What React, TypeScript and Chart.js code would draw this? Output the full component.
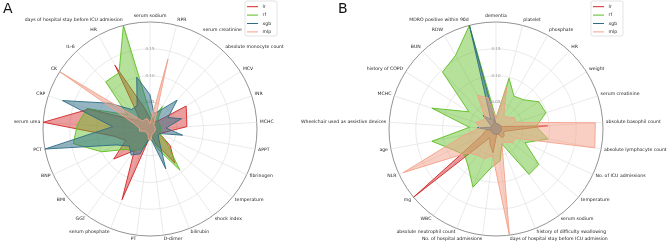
import React, { useEffect, useRef } from 'react';
import { Chart, registerables } from 'chart.js';
Chart.register(...registerables);

const FONT = '"DejaVu Sans", sans-serif';

const labelsA = [
  'serum sodium', 'RPR', 'serum creatinine', 'absolute monocyte count', 'MCV', 'INR', 'MCHC', 'APPT',
  'fibrinogen', 'temperature', 'shock index', 'bilirubin', 'D-dimer', 'PT', 'serum phosphate', 'GGT',
  'BMI', 'BNP', 'PCT', 'serum urea', 'CRP', 'CK', 'IL-6', 'HR', 'days of hospital stay before ICU admission',
];
const lrA = [0.02, 0.02, 0.015, 0.02, 0.08, 0.072, 0.069, 0.03, 0.02, 0.049, 0.079, 0.03, 0.01, 0.02, 0.142, 0.05, 0.088, 0.05, 0.07, 0.2, 0.12, 0.03, 0.03, 0.136, 0.04];
const rfA = [0.03, 0.02, 0.048, 0.02, 0.02, 0.02, 0.02, 0.02, 0.02, 0.04, 0.095, 0.04, 0.02, 0.02, 0.04, 0.05, 0.06, 0.1, 0.146, 0.136, 0.124, 0.05, 0.121, 0.12, 0.2];
const xgbA = [0.064, 0.03, 0.04, 0.074, 0.04, 0.062, 0.03, 0.062, 0.02, 0.02, 0.03, 0.08, 0.02, 0.02, 0.05, 0.06, 0.05, 0.07, 0.2, 0.07, 0.172, 0.09, 0.05, 0.05, 0.1];
const mlpA = [0.01, 0.135, 0.02, 0.01, 0.01, 0.01, 0.01, 0.01, 0.01, 0.01, 0.01, 0.01, 0.02, 0.02, 0.01, 0.01, 0.01, 0.01, 0.02, 0.02, 0.03, 0.199, 0.02, 0.02, 0.02];

const labelsB = [
  'dementia', 'platelet', 'phosphate', 'HR', 'weight', 'serum creatinine', 'absolute basophil count',
  'absolute lymphocyte count', 'No. of ICU admissions', 'temperature', 'serum sodium',
  'history of difficulty swallowing', 'days of hospital stay before ICU admission', 'No. of hospital admissions',
  'absolute neutrophil count', 'WBC', 'mg', 'NLR', 'age', 'Wheelchair used as assistive devices', 'MCHC',
  'history of COPD', 'BUN', 'RDW', 'MDRO positive within 90d',
];
const lrB = [0.01, 0.01, 0.01, 0.01, 0.01, 0.015, 0.097, 0.02, 0.015, 0.02, 0.02, 0.01, 0.01, 0.045, 0.03, 0.02, 0.2, 0.03, 0.02, 0.01, 0.01, 0.01, 0.01, 0.01, 0.02];
const rfB = [0.02, 0.098, 0.07, 0.075, 0.095, 0.098, 0.075, 0.099, 0.06, 0.104, 0.105, 0.03, 0.06, 0.073, 0.117, 0.088, 0.076, 0.09, 0.122, 0.05, 0.126, 0.06, 0.146, 0.157, 0.2];
const xgbB = [0.01, 0.01, 0.01, 0.01, 0.01, 0.01, 0.01, 0.01, 0.01, 0.01, 0.01, 0.01, 0.01, 0.01, 0.01, 0.01, 0.01, 0.01, 0.01, 0.035, 0.01, 0.01, 0.035, 0.02, 0.2];
const mlpB = [0.02, 0.081, 0.03, 0.03, 0.04, 0.04, 0.186, 0.188, 0.04, 0.04, 0.03, 0.03, 0.2, 0.05, 0.06, 0.06, 0.07, 0.192, 0.06, 0.03, 0.04, 0.03, 0.03, 0.072, 0.06];

const modelNames = ['lr', 'rf', 'xgb', 'mlp'];
const lineColors = ['#d42525', '#5cbd1f', '#2d6c85', '#f4a088'];
const fillColors = ['rgba(212,37,37,0.45)', 'rgba(92,189,31,0.45)', 'rgba(45,108,133,0.5)', 'rgba(244,160,136,0.5)'];

const RMAX = 0.2;
const STEP = 0.05;

function makeOverlay(labels: string[]) {
  return {
    id: 'overlay',
    afterDraw(chart: any) {
      const s = chart.scales.r;
      const ctx = chart.ctx;
      const n = labels.length;
      const xc = s.xCenter;
      const yc = s.yCenter;
      ctx.save();
      ctx.font = `4.6px ${FONT}`;
      ctx.fillStyle = '#222';
      ctx.textBaseline = 'middle';
      labels.forEach((lab, i) => {
        const th = (i * 2 * Math.PI) / n;
        const sn = Math.sin(th);
        const cs = Math.cos(th);
        const R = s.drawingArea + 3;
        const x = xc + R * sn;
        const y = yc - R * cs - cs * (cs > 0 ? 2.8 : 0.4);
        ctx.textAlign = Math.abs(sn) < 0.02 ? 'center' : sn > 0 ? 'left' : 'right';
        ctx.fillText(lab, x, y);
      });
      // legend
      const bx = xc + 95;
      const by = 1;
      const bw = 32;
      const bh = 35;
      ctx.beginPath();
      ctx.roundRect(bx, by, bw, bh, 2);
      ctx.fillStyle = 'rgba(255,255,255,0.85)';
      ctx.fill();
      ctx.strokeStyle = '#d0d0d0';
      ctx.lineWidth = 0.6;
      ctx.stroke();
      ctx.textAlign = 'left';
      modelNames.forEach((m, k) => {
        const ly = 6.7 + k * 8.4;
        ctx.beginPath();
        ctx.moveTo(bx + 2, ly);
        ctx.lineTo(bx + 13, ly);
        ctx.strokeStyle = lineColors[k];
        ctx.lineWidth = 1;
        ctx.stroke();
        ctx.fillStyle = '#222';
        ctx.fillText(m, bx + 17.5, ly);
      });
      ctx.restore();
    },
  };
}

function RadarPanel(props: { labels: string[]; values: number[][]; left: number; width: number; padLeft: number }) {
  const ref = useRef<HTMLCanvasElement | null>(null);
  const { labels, values, left, width, padLeft } = props;
  useEffect(() => {
    if (!ref.current) return;
    const chart = new Chart(ref.current, {
      type: 'radar',
      data: {
        labels,
        datasets: modelNames.map((m, k) => ({
          label: m,
          data: values[k],
          borderColor: lineColors[k],
          backgroundColor: fillColors[k],
          borderWidth: 0.9,
          pointRadius: 0,
          fill: true,
          order: 3 - k,
          tension: 0,
        })),
      },
      options: {
        responsive: false,
        animation: false,
        layout: { padding: { left: padLeft, right: width - padLeft - 218, top: 20, bottom: 3 } },
        plugins: { legend: { display: false }, tooltip: { enabled: false } },
        scales: {
          r: {
            min: 0,
            max: RMAX,
            ticks: {
              stepSize: STEP,
              font: { size: 4, family: FONT },
              color: '#999',
              backdropPadding: 0,
              showLabelBackdrop: false,
              callback: (v: any) => (Math.abs(v - RMAX) < 1e-9 ? '' : Number(v).toFixed(2)),
            },
            pointLabels: { display: false },
            grid: {
              circular: true,
              color: (c: any) => (c.index === 4 ? '#777' : '#dcdcdc'),
              lineWidth: (c: any) => (c.index === 4 ? 0.8 : 0.6),
            },
            angleLines: { color: '#dcdcdc', lineWidth: 0.6 },
          },
        },
      } as any,
      plugins: [makeOverlay(labels) as any],
    });
    return () => chart.destroy();
  }, []);
  return (
    <canvas
      ref={ref}
      width={width}
      height={241}
      style={{ position: 'absolute', left, top: 0, width, height: 241, display: 'block' }}
    />
  );
}

export default function App() {
  return (
    <div style={{ position: 'fixed', left: 0, top: 0, width: 670, height: 241, background: '#fff', overflow: 'hidden' }}>
      <RadarPanel labels={labelsA} values={[lrA, rfA, xgbA, mlpA]} left={0} width={335} padLeft={41} />
      <RadarPanel labels={labelsB} values={[lrB, rfB, xgbB, mlpB]} left={260} width={410} padLeft={127} />
      <div style={{ position: 'absolute', left: 3, top: -1, fontFamily: FONT, fontSize: 14, lineHeight: '18px', color: '#111' }}>A</div>
      <div style={{ position: 'absolute', left: 338, top: -1, fontFamily: FONT, fontSize: 14, lineHeight: '18px', color: '#111' }}>B</div>
    </div>
  );
}
